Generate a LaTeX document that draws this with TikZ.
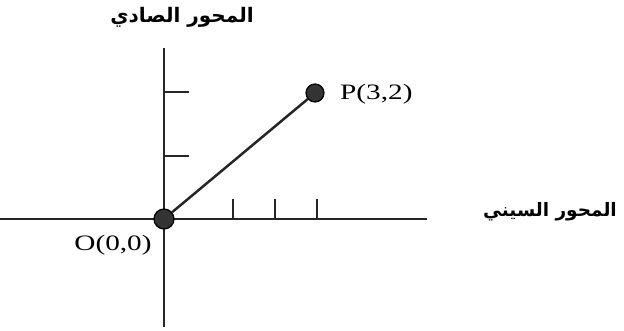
\documentclass[tikz,border=0pt]{standalone}
\usepackage{graphicx}
\usepackage{fontspec}
\setmainfont{Liberation Serif}
\newfontfamily\arabicfont[Script=Arabic]{DejaVu Sans}
\TeXXeTstate=1
\begin{document}
\begin{tikzpicture}[x=1pt,y=-1pt,
  axis/.style={line width=1.7pt,black!85},
  tick/.style={line width=1.7pt,black!85},
  dot/.style={circle,fill=black!80,draw=black,line width=1.2pt,inner sep=0pt,minimum size=#1},
  lbl/.style={font=\fontsize{22}{24}\selectfont},
  albl/.style={font=\arabicfont\bfseries\fontsize{20}{22}\selectfont}]
\useasboundingbox (0,0) rectangle (624,331);
% axes
\coordinate (xl) at (0,219);
\coordinate (xr) at (427,219);
\coordinate (yt) at (164,48);
\coordinate (yb) at (164,327);
\draw[axis] (xl) -- (xr);
\draw[axis] (yt) -- (yb);
% ticks
\foreach \x/\n in {233/a,275/b,317/c}{
  \coordinate (tx\n) at (\x,219);
  \coordinate (tx\n t) at (\x,199);
  \draw[tick] (tx\n) -- (tx\n t);
}
\foreach \y/\n in {92/a,156/b}{
  \coordinate (ty\n) at (164,\y);
  \coordinate (ty\n t) at (189,\y);
  \draw[tick] (ty\n) -- (ty\n t);
}
% points
\node[dot=20pt] (O) at (164,219) {};
\node[dot=18pt] (P) at (315,93) {};
\draw[line width=2.5pt,black!85] (O) -- (P);
% labels
\node[lbl,anchor=west,inner sep=0pt] (Pl) at (340,94) {\scalebox{1.33}[1]{P(3,2)}};
\node[lbl,inner sep=0pt] (Ol) at (113,245) {\scalebox{1.33}[1]{O(0,0)}};
\node[albl] (yl) at (182,17) {\beginR المحور الصادي\endR};
\node[albl,font=\arabicfont\bfseries\fontsize{18.5}{20}\selectfont] (xlbl) at (550,212) {\beginR المحور السيني\endR};
\end{tikzpicture}
\end{document}
